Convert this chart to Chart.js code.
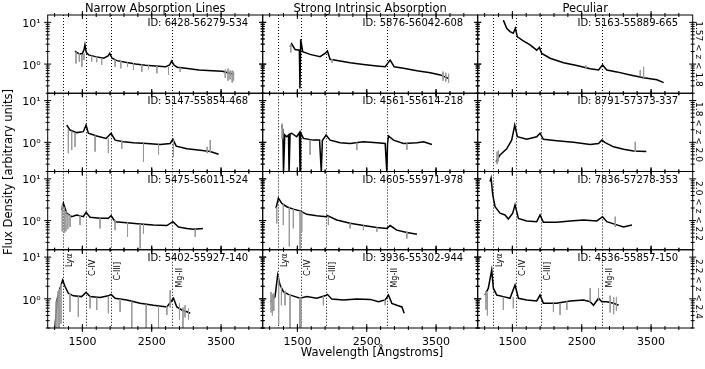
<!DOCTYPE html>
<html>
<head>
<meta charset="utf-8">
<script src="https://cdn.jsdelivr.net/npm/chart.js"></script>
<style>
  body { margin: 0; background: #fff; }
  #wrap { position: relative; width: 705px; height: 369px; overflow: hidden; font-family: "DejaVu Sans", sans-serif; color: #000; }
  #wrap canvas { position: absolute; left: 0; top: 0; }
  .t { position: absolute; white-space: nowrap; transform: translate(-50%, -50%); }
</style>
</head>
<body>
<div id="wrap"></div>
<script>
// emission lines (Angstrom) and their names
const lines = [1216, 1549, 1909, 2798];
const lineNames = ['Lyα', 'C-IV', 'C-III]', 'Mg-II'];
const columns = ['Narrow Absorption Lines', 'Strong Intrinsic Absorption', 'Peculiar'];
const rows = ['1.57 < z < 1.8', '1.8 < z < 2.0', '2.0 < z < 2.2', '2.2 < z < 2.4'];
const narrowIds = ['6428-56279-534', '5147-55854-468', '5475-56011-524', '5402-55927-140'];
const strongIds = ['5876-56042-608', '4561-55614-218', '4605-55971-978', '3936-55302-944'];
const pecIds = ['5163-55889-665', '8791-57373-337', '7836-57278-353', '4536-55857-150'];
const xTicks = [1500, 2500, 3500];
const yTicks = [1, 10];

// spectra [wavelength, flux]
const narrow1 = [[1394,2.06],[1405,1.97],[1445,1.8],[1493,1.74],[1522,2.15],[1537,2.88],[1557,1.88],[1590,1.66],[1687,1.51],[1807,1.38],[1870,1.56],[1894,1.81],[1928,1.38],[2000,1.21],[2121,1.1],[2265,1.0],[2410,0.94],[2554,0.9],[2699,0.86],[2757,0.95],[2786,1.18],[2820,0.95],[2868,0.84],[2988,0.79],[3181,0.72],[3374,0.69],[3518,0.67],[3600,0.62],[3663,0.58],[3687,0.55]];
const narrow2 = [[1274,2.6],[1322,1.97],[1418,1.71],[1514,1.8],[1553,2.6],[1586,1.65],[1707,1.42],[1842,1.24],[1914,1.65],[1972,1.13],[2092,1.03],[2237,0.98],[2429,0.94],[2622,0.89],[2766,0.94],[2805,1.18],[2853,0.81],[3007,0.7],[3199,0.65],[3344,0.6],[3464,0.52]];
const narrow3 = [[1202,1.8],[1226,2.6],[1274,1.5],[1346,1.24],[1418,1.36],[1514,1.24],[1553,1.58],[1611,1.2],[1755,1.13],[1875,1.13],[1914,1.31],[1972,0.94],[2140,0.89],[2333,0.83],[2525,0.78],[2718,0.76],[2805,0.94],[2886,0.7],[3007,0.65],[3103,0.62],[3238,0.65]];
const narrow4 = [[1105,0.215],[1139,1.03],[1178,1.8],[1216,2.83],[1250,1.97],[1298,1.36],[1370,1.18],[1490,1.13],[1553,1.44],[1611,1.13],[1755,1.07],[1875,1.18],[1914,1.28],[1972,1.03],[2140,0.94],[2333,0.78],[2525,0.7],[2718,0.64],[2776,0.85],[2814,1.03],[2862,0.64],[2934,0.54],[3007,0.49],[3055,0.45]];
const strong1 = [[1394,2.6],[1418,3.07],[1466,2.24],[1529,2.15],[1537,0.26],[1548,3.92],[1577,1.97],[1683,1.71],[1827,1.51],[1899,1.8],[1933,2.06],[1971,1.3],[2116,1.18],[2260,1.08],[2453,0.98],[2646,0.9],[2766,0.86],[2838,1.25],[2896,0.86],[3031,0.79],[3224,0.69],[3416,0.62],[3561,0.55],[3682,0.45]];
const strong2 = [[1274,2.6],[1290,1.97],[1300,0.19],[1318,1.5],[1346,1.36],[1372,1.5],[1380,0.19],[1395,1.6],[1418,1.65],[1490,1.36],[1530,1.7],[1538,0.19],[1546,1.7],[1587,1.24],[1731,1.13],[1820,1.13],[1845,0.19],[1860,1.1],[1914,1.5],[1972,1.13],[2116,0.98],[2260,0.94],[2453,1.03],[2646,0.98],[2766,0.94],[2790,0.19],[2800,0.94],[2814,1.42],[2886,1.13],[3031,0.94],[3224,0.98],[3320,1.03],[3440,0.89]];
const strong3 = [[1192,1.97],[1226,3.44],[1274,2.6],[1346,2.15],[1442,1.88],[1539,1.71],[1635,1.41],[1779,1.31],[1914,1.24],[1933,1.31],[2068,1.03],[2260,0.86],[2453,0.76],[2646,0.68],[2790,0.65],[2838,0.76],[2934,0.59],[3079,0.52],[3224,0.47]];
const strong4 = [[1115,0.85],[1178,1.13],[1216,3.73],[1250,2.15],[1298,1.49],[1370,1.28],[1466,1.13],[1539,1.03],[1635,1.13],[1779,1.03],[1899,1.18],[1933,1.28],[1995,0.99],[2164,0.94],[2357,0.99],[2550,0.97],[2670,0.85],[2766,0.94],[2814,1.23],[2862,0.78],[2934,0.7],[3007,0.64],[3040,0.45]];
const peculiar1 = [[1370,11.3],[1418,7.2],[1466,6.0],[1514,5.5],[1543,7.2],[1572,4.5],[1658,3.6],[1755,2.88],[1851,2.15],[1890,2.5],[1923,1.8],[2044,1.38],[2237,1.08],[2429,0.92],[2622,0.77],[2742,0.72],[2800,0.95],[2862,0.72],[3007,0.65],[3199,0.55],[3392,0.47],[3585,0.42],[3681,0.36]];
const peculiar2 = [[1264,0.34],[1322,0.5],[1418,0.7],[1490,1.13],[1534,2.6],[1572,1.36],[1707,1.18],[1851,1.36],[1899,1.65],[1947,1.18],[2140,1.09],[2381,1.0],[2622,0.89],[2742,0.94],[2790,1.13],[2838,0.98],[2959,0.78],[3103,0.68],[3247,0.62],[3431,0.6]];
const peculiar3 = [[1178,8.6],[1193,10.4],[1217,4.1],[1250,2.15],[1322,1.5],[1394,1.36],[1442,1.09],[1505,1.5],[1538,2.38],[1587,1.13],[1707,0.98],[1851,0.94],[1899,1.36],[1947,0.91],[2140,0.91],[2333,0.98],[2525,1.03],[2718,0.98],[2800,1.24],[2862,0.94],[2983,0.81],[3103,0.7],[3224,0.78]];
const peculiar4 = [[1105,1.23],[1153,1.8],[1202,4.9],[1226,1.8],[1274,1.23],[1370,1.13],[1466,1.03],[1538,2.15],[1587,1.03],[1707,0.94],[1851,0.89],[1899,1.23],[1947,0.78],[2140,0.78],[2333,0.89],[2525,0.94],[2622,0.85],[2670,0.7],[2742,1.03],[2790,0.85],[2862,0.85],[2959,0.78],[3031,0.7]];

// gray absorption / noise features [wavelength, low, high]
const narrow1Gray = [[1408,1.04,1.97],[1456,1.14,1.8],[1494,0.86,1.71],[1523,1.25,1.8],[1634,1.14,1.58],[1706,1.11,1.49],[1778,0.95,1.4],[1972,0.86,1.28],[2054,0.79,1.19],[2151,0.86,1.09],[2237,0.72,1.04],[2357,0.65,0.97],[2453,0.75,0.94],[2574,0.6,0.9],[2742,0.55,0.86],[2910,0.65,0.82],[3560,0.47,0.74],[3600,0.4,0.78],[3630,0.43,0.7],[3660,0.36,0.7],[3680,0.4,0.66]];
const narrow2Gray = [[1298,0.55,2.06],[1346,0.65,1.88],[1394,0.78,1.71],[1683,0.6,1.45],[1875,0.55,1.23],[2068,0.7,1.07],[2381,0.34,0.94],[2598,0.5,0.89],[2814,0.45,1.11],[3300,0.55,0.78],[3344,0.58,1.13]];
const narrow3Gray = [[1210,0.55,2.42],[1240,0.51,2.06],[1262,0.55,1.71],[1290,0.62,1.45],[1322,0.7,1.36],[1466,0.78,1.32],[1755,0.65,1.13],[1972,0.59,1.03],[2151,0.41,0.9],[2333,0.215,0.83],[2381,0.49,0.82],[3127,0.41,0.62]];
const narrow4Gray = [[1120,0.18,0.86],[1150,0.18,1.53],[1168,0.18,1.71],[1192,0.25,2.24],[1322,0.49,1.36],[1442,0.37,1.15],[1611,0.59,1.13],[1707,0.54,1.07],[1875,0.45,1.15],[2044,0.49,0.98],[2212,0.18,0.86],[2420,0.18,0.74],[2598,0.18,0.66],[2718,0.41,0.66],[2766,0.62,1.62],[2900,0.32,0.78],[2950,0.18,0.62],[2980,0.36,0.7],[3030,0.32,0.585]];
const strong1Gray = [[1405,1.9,3.0],[2000,1.07,1.32],[3600,0.4,0.66],[3640,0.38,0.62],[3680,0.36,0.585]];
const strong2Gray = [[1280,1.2,2.8],[1683,0.5,1.15],[2357,0.65,0.98],[3079,0.66,0.94]];
const strong3Gray = [[1202,0.86,2.06],[1298,0.78,2.42],[1384,0.24,2.06],[1442,0.65,1.88],[1539,0.2,1.71],[1563,0.54,1.62],[1947,0.78,1.23],[2260,0.65,0.86],[2453,0.59,0.76],[2646,0.54,0.68],[3079,0.37,0.55]];
const strong4Gray = [[1120,0.47,1.45],[1140,0.4,1.28],[1160,0.51,1.36],[1230,0.24,3.35],[1270,0.7,1.97],[1322,0.7,1.53],[1394,0.18,1.28],[1535,0.18,1.07],[1550,0.18,1.07],[1875,0.7,1.15],[2766,0.7,0.94]];
const peculiar1Gray = [[2560,0.8,0.92],[3344,0.51,0.72],[3392,0.47,0.86]];
const peculiar2Gray = [[1280,0.3,0.6],[1300,0.35,0.65],[3272,0.585,1.03]];
const peculiar3Gray = [[2983,0.7,1.24]];
const peculiar4Gray = [[1120,0.55,1.53],[1140,0.4,1.36],[1370,0.54,1.11],[1514,0.59,1.11],[2092,0.49,0.78],[2188,0.41,0.78],[2285,0.54,0.86],[2622,0.85,1.8],[2742,0.9,1.8],[2910,0.47,1.19],[2960,0.43,1.11],[3000,0.51,1.11]];

const grid = [
  [[narrow1, narrow1Gray], [strong1, strong1Gray], [peculiar1, peculiar1Gray]],
  [[narrow2, narrow2Gray], [strong2, strong2Gray], [peculiar2, peculiar2Gray]],
  [[narrow3, narrow3Gray], [strong3, strong3Gray], [peculiar3, peculiar3Gray]],
  [[narrow4, narrow4Gray], [strong4, strong4Gray], [peculiar4, peculiar4Gray]],
];
const gridIds = [0, 1, 2, 3].map(r => [narrowIds[r], strongIds[r], pecIds[r]]);

const W = 705, H = 369;
const left0 = 47.7, top0 = 15, pw = 215, ph = 78.25;
const font = '"DejaVu Sans"';

function tick(ctx, x0, y0, x1, y1) {
  ctx.beginPath(); ctx.moveTo(x0, y0); ctx.lineTo(x1, y1); ctx.stroke();
}

const frame = {
  id: 'frame',
  beforeDatasetsDraw(chart) {
    const { ctx, chartArea: a } = chart;
    const x = chart.scales.x;
    ctx.save();
    ctx.strokeStyle = '#000';
    ctx.lineWidth = 1;
    ctx.setLineDash([1, 2]);
    lines.forEach(w => {
      const px = Math.round(x.getPixelForValue(w)) + 0.5;
      tick(ctx, px, a.top, px, a.bottom);
    });
    ctx.restore();
  },
  afterDatasetsDraw(chart, args, o) {
    const { ctx, chartArea: a } = chart;
    const x = chart.scales.x, y = chart.scales.y;
    ctx.save();
    ctx.strokeStyle = '#000';
    ctx.fillStyle = '#000';
    ctx.lineWidth = 1;
    ctx.strokeRect(a.left, a.top, a.right - a.left, a.bottom - a.top);

    // x ticks, top and bottom
    for (let v = 1100; v < 4100; v += 200) {
      const px = x.getPixelForValue(v);
      tick(ctx, px, a.bottom - 2, px, a.bottom + 2);
      tick(ctx, px, a.top - 2, px, a.top + 2);
    }
    xTicks.forEach(v => {
      const px = x.getPixelForValue(v);
      tick(ctx, px, a.bottom - 4, px, a.bottom + 4);
      tick(ctx, px, a.top - 4, px, a.top + 4);
    });
    // y ticks, left and right
    [0.2, 0.3, 0.4, 0.5, 0.6, 0.7, 0.8, 0.9, 2, 3, 4, 5, 6, 7, 8, 9].forEach(v => {
      const py = y.getPixelForValue(v);
      tick(ctx, a.left - 2, py, a.left + 2, py);
      tick(ctx, a.right - 2, py, a.right + 2, py);
    });
    yTicks.forEach(v => {
      const py = y.getPixelForValue(v);
      tick(ctx, a.left - 3.5, py, a.left + 3.5, py);
      tick(ctx, a.right - 3.5, py, a.right + 3.5, py);
    });

    // tick labels
    ctx.font = '11px ' + font;
    if (o.col === 0) {
      ctx.textAlign = 'right';
      ctx.textBaseline = 'middle';
      ctx.fillText('10¹', a.left - 7, y.getPixelForValue(10) + 1.5);
      ctx.fillText('10⁰', a.left - 7, y.getPixelForValue(1) + 2);
    }
    if (o.row === 3) {
      ctx.textAlign = 'center';
      ctx.textBaseline = 'top';
      xTicks.forEach(v => ctx.fillText(String(v), x.getPixelForValue(v), a.bottom + 9));
      // line names
      ctx.font = '8px ' + font;
      const cy = [10.5, 18, 21.5, 28];
      lines.forEach((w, i) => {
        ctx.save();
        ctx.translate(x.getPixelForValue(w) + 7.5, a.top + cy[i]);
        ctx.rotate(-Math.PI / 2);
        ctx.textAlign = 'center';
        ctx.textBaseline = 'middle';
        ctx.fillText(lineNames[i], 0, 0);
        ctx.restore();
      });
    }
    // spectrum id
    ctx.font = '10px ' + font;
    ctx.textAlign = 'right';
    ctx.textBaseline = 'middle';
    ctx.fillText('ID: ' + o.id, a.right - 14.5, a.top + 8.5);
    ctx.restore();
  }
};

const wrap = document.getElementById('wrap');

function addText(txt, cx, cy, size, rot) {
  const d = document.createElement('div');
  d.className = 't';
  d.textContent = txt;
  d.style.left = cx + 'px';
  d.style.top = cy + 'px';
  d.style.fontSize = size + 'px';
  if (rot) d.style.transform = 'translate(-50%, -50%) rotate(' + rot + 'deg)';
  wrap.appendChild(d);
}

for (let r = 0; r < 4; r++) {
  for (let c = 0; c < 3; c++) {
    const [spec, gray] = grid[r][c];
    const grayPts = [];
    gray.forEach(g => {
      grayPts.push({ x: g[0], y: g[2] }, { x: g[0], y: g[1] }, { x: g[0], y: null });
    });
    const cv = document.createElement('canvas');
    cv.width = W; cv.height = H;
    wrap.appendChild(cv);
    const L = left0 + pw * c, T = top0 + ph * r;
    new Chart(cv, {
      type: 'line',
      data: {
        datasets: [
          { data: grayPts, borderColor: '#999', borderWidth: 1, pointRadius: 0, spanGaps: false, tension: 0 },
          { data: spec.map(p => ({ x: p[0], y: p[1] })), borderColor: '#000', borderWidth: 1.5, pointRadius: 0, tension: 0 }
        ]
      },
      options: {
        responsive: false,
        animation: false,
        events: [],
        layout: { padding: { left: L, top: T, right: W - L - pw, bottom: H - T - ph } },
        plugins: { legend: { display: false }, tooltip: { enabled: false }, frame: { row: r, col: c, id: gridIds[r][c] } },
        scales: {
          x: { type: 'linear', min: 1000, max: 4100, display: false },
          y: { type: 'logarithmic', min: 0.2, max: 15, display: false }
        }
      },
      plugins: [frame]
    });
  }
}

columns.forEach((t, c) => addText(t, left0 + pw * c + pw / 2, 7.5, 11.5));
rows.forEach((t, r) => addText(t, 699, top0 + ph * r + ph / 2, 9, 90));
addText('Flux Density [arbitrary units]', 8, top0 + 2 * ph, 11.5, -90);
addText('Wavelength [Ångstroms]', 372, 352, 11.5);
</script>
</body>
</html>
